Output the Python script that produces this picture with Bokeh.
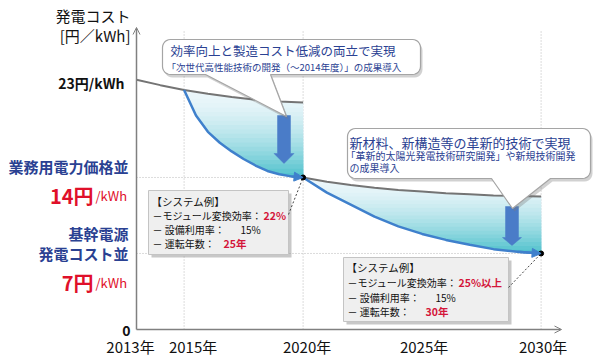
import numpy as np
from bokeh.plotting import figure
from bokeh.models import Range1d, Arrow, NormalHead, OpenHead
from bokeh.core.properties import value
from bokeh.embed import file_html
from bokeh.resources import INLINE

# ---------------- data ----------------
gray_years_1 = [2013, 2014, 2015, 2016, 2017, 2018, 2019, 2020]
gray_cost_1 = [23.0, 22.5, 22.05, 21.7, 21.4, 21.15, 21.0, 20.9]
blue_years_1 = [2015, 2015.5, 2016, 2016.5, 2017, 2017.5, 2018, 2018.5, 2019, 2019.5, 2020]
blue_cost_1 = [22.05, 19.7, 18.2, 17.2, 16.4, 15.7, 15.1, 14.6, 14.3, 14.1, 14.0]
gray_years_2 = [2020, 2021, 2022, 2023, 2024, 2025, 2026, 2027, 2028, 2029, 2030]
gray_cost_2 = [14.0, 13.6, 13.3, 13.05, 12.85, 12.7, 12.55, 12.45, 12.35, 12.3, 12.25]
blue_years_2 = [2020, 2021, 2022, 2023, 2024, 2025, 2026, 2027, 2028, 2029, 2030]
blue_cost_2 = [14.0, 12.6, 11.5, 10.4, 9.5, 8.8, 8.25, 7.8, 7.4, 7.15, 7.0]
target_years = [2020, 2030]
target_cost = [14, 7]
grid_years = [2015, 2020, 2030]
xtick_years = [2013, 2015, 2020, 2025, 2030]
xtick_labels = ["2013年", "2015年", "2020年", "2025年", "2030年"]
ytick_values = [0, 23]
ytick_labels = ["0", "23円/kWh"]

# ---------------- layout helpers (page pixel -> data) ----------------
PXY = 23.8      # px per year
PXV = 10.86     # px per 円/kWh
def PX(px):
    return 2013 + (px - 136) / PXY
def PY(py):
    return (329 - py) / PXV

FONT = value("Noto Sans CJK JP")
BLUE_TXT = "#2a4192"
RED = "#e0102a"
RED2 = "#d4163a"
CURVE = "#3f80cc"
GRAYL = "#747474"

p = figure(width=600, height=359, output_backend="svg", toolbar_location=None,
           x_range=Range1d(PX(0), PX(600)), y_range=Range1d(PY(359), PY(0)),
           x_axis_location=None, y_axis_location=None, min_border=0)
p.grid.visible = False
p.outline_line_color = None
p.background_fill_color = "white"
p.border_fill_color = "white"

# dotted reference lines
p.segment(x0=grid_years, y0=[0] * len(grid_years), x1=grid_years,
          y1=[PY(29)] * len(grid_years), line_color="#b8b8b8", line_dash="1 2", line_width=1)
p.segment(x0=[2013, 2013], y0=target_cost, x1=target_years, y1=target_cost,
          line_color="#b8b8b8", line_dash="1 2", line_width=1)

# gradient fills between gray line and blue curve
C_TOP = np.array([236, 247, 251])
C_BOT = np.array([84, 195, 206])
def mix(t):
    c = (C_TOP + (C_BOT - C_TOP) * t).astype(int)
    return "#%02x%02x%02x" % tuple(c)

def gradient(xl, yl, xu, yu, n=20):
    grid = np.union1d(np.linspace(xl[0], xl[-1], 300), np.union1d(xl, [x for x in xu if xl[0] <= x <= xl[-1]]))
    lo = np.interp(grid, xl, yl)
    up = np.interp(grid, xu, yu)
    top, bot = up.max(), lo.min()
    for i in range(n):
        level = top - (top - bot) * i / n
        t = (i / (n - 1)) ** 1.6
        y2 = np.maximum(np.minimum(up, level), lo)
        p.varea(x=grid, y1=lo, y2=y2, fill_color=mix(t))

gradient(blue_years_1, blue_cost_1, gray_years_1, gray_cost_1)
gradient(blue_years_2, blue_cost_2, gray_years_2, gray_cost_2)

# curves
p.line(gray_years_1, gray_cost_1, line_color=GRAYL, line_width=2)
p.line(gray_years_2, gray_cost_2, line_color=GRAYL, line_width=2)
p.line(blue_years_1, blue_cost_1, line_color=CURVE, line_width=2.5)
p.line(blue_years_2, blue_cost_2, line_color=CURVE, line_width=2.5)
for xs, ys in ((blue_years_1, blue_cost_1), (blue_years_2, blue_cost_2)):
    p.add_layout(Arrow(end=NormalHead(size=9, fill_color=CURVE, line_color=CURVE),
                       x_start=xs[-2], y_start=ys[-2], x_end=xs[-1], y_end=ys[-1],
                       line_color=CURVE, line_width=2.5))

# axes with arrows
p.add_layout(Arrow(end=OpenHead(size=7, line_color="#808080", line_width=1),
                   x_start=2013, y_start=0, x_end=2013, y_end=PY(27),
                   line_color="#808080", line_width=1.5))
p.add_layout(Arrow(end=OpenHead(size=7, line_color="#808080", line_width=1),
                   x_start=2013, y_start=0, x_end=PX(561), y_end=0,
                   line_color="#808080", line_width=1.5))

# block arrows (down)
def block_arrow(cx, top, head, tip, bw, hw, color="#4a7cc8"):
    pts = [(cx - bw, top), (cx + bw, top), (cx + bw, head), (cx + hw, head),
           (cx, tip), (cx - hw, head), (cx - bw, head)]
    p.patch([PX(a) for a, b in pts], [PY(b) for a, b in pts], fill_color=color,
            line_color=color, line_width=0.5)

block_arrow(283.5, 115, 153, 163, 6.5, 10)
block_arrow(511.5, 206, 237, 245, 6.5, 9.5)

# callouts
def callout(x0, y0, x1, y1, r, bl, br, tx, ty, n=7):
    pts = []
    def arc(cx, cy, a0, a1):
        for a in np.linspace(np.radians(a0), np.radians(a1), n):
            pts.append((cx + r * np.cos(a), cy + r * np.sin(a)))
    arc(x0 + r, y0 + r, 180, 270)
    arc(x1 - r, y0 + r, 270, 360)
    arc(x1 - r, y1 - r, 0, 90)
    pts.extend([(br, y1), (tx, ty), (bl, y1)])
    arc(x0 + r, y1 - r, 90, 180)
    p.patch([PX(a + 2) for a, b in pts], [PY(b + 3) for a, b in pts],
            fill_color="#7a7a7a", fill_alpha=0.35, line_color=None)
    p.patch([PX(a) for a, b in pts], [PY(b) for a, b in pts],
            fill_color="white", line_color="#a5a5a5", line_width=1.2)

callout(162, 39, 420, 74, 8, 205, 270, 286, 116)
callout(347, 128, 590, 178, 8, 491, 550, 512, 208)

# system boxes
def sysbox(x0, y0, x1, y1):
    p.quad(left=[PX(x0 + 3)], right=[PX(x1 + 3)], top=[PY(y0 + 3)], bottom=[PY(y1 + 3)],
           fill_color="#9a9a9a", fill_alpha=0.55, line_color=None)
    p.quad(left=[PX(x0)], right=[PX(x1)], top=[PY(y0)], bottom=[PY(y1)],
           fill_color="#efefef", line_color="#c4c4c4", line_width=1)

sysbox(148, 190, 288, 254)
sysbox(343, 257, 508, 321)

# connectors
p.segment(x0=[PX(288), PX(508)], y0=[PY(214), PY(287)], x1=target_years, y1=target_cost,
          line_color="#444444", line_dash="2 2", line_width=1)
p.scatter(target_years, target_cost, size=5, color="black")

# texts
def txt(px, py, s, size, color="#222222", align="left", bold=False, baseline="middle"):
    p.text(x=[PX(px)], y=[PY(py)], text=[s], text_font=FONT, text_font_size=value(f"{size}px"),
           text_color=color, text_align=align, text_baseline=baseline,
           text_font_style="bold" if bold else "normal")

# tick labels
p.text(x=xtick_years, y=[PY(346)] * len(xtick_years), text=xtick_labels,
       x_offset=[-6, 9, 4, 2, 2], text_font=FONT, text_font_size=value("15px"),
       text_color="#111111", text_align="center", text_baseline="middle")
p.text(x=[2013] * 2, y=ytick_values, text=ytick_labels, x_offset=[-6, -12], y_offset=[1, 3],
       text_font=FONT, text_font_size=value("14px"), text_color="#111111",
       text_align="right", text_baseline="middle", text_font_style="bold")

txt(130, 15, "発電コスト", 15, "#111111", "right")
txt(130, 35, "[円／kWh]", 15, "#111111", "right")

txt(128, 166, "業務用電力価格並", 15, BLUE_TXT, "right", True)
txt(93, 195, "14円", 20, RED, "right", True, "alphabetic")
txt(95, 195, "/kWh", 13, RED, "left", False, "alphabetic")
txt(128, 233, "基幹電源", 15, BLUE_TXT, "right", True)
txt(128, 253, "発電コスト並", 15, BLUE_TXT, "right", True)
txt(93, 282, "7円", 20, RED, "right", True, "alphabetic")
txt(95, 282, "/kWh", 13, RED, "left", False, "alphabetic")

# callout texts
txt(170, 50, "効率向上と製造コスト低減の両立で実現", 12.5, BLUE_TXT)
txt(166, 66, "「次世代高性能技術の開発（～2014年度）」の成果導入", 9.5, BLUE_TXT)
txt(349, 142, "新材料、新構造等の革新的技術で実現", 13, BLUE_TXT)
txt(345, 155, "「革新的太陽光発電技術研究開発」や新規技術開発", 10, BLUE_TXT)
txt(349, 167, "の成果導入", 10, BLUE_TXT)

# system box texts
def sys_texts(x, ys, eff, life, xe, xu, xl):
    txt(x - 1, ys[0], "【システム例】", 10.5, "#111111")
    txt(x, ys[1], "－モジュール変換効率：", 10, "#111111")
    txt(xe, ys[1], eff, 10.5, RED2, bold=True)
    txt(x, ys[2], "－ 設備利用率：", 10, "#111111")
    txt(xu, ys[2], "15%", 10, "#111111")
    txt(x, ys[3], "－ 運転年数：", 10, "#111111")
    txt(xl, ys[3], life, 10.5, RED2, bold=True)

sys_texts(152, [201, 215, 229, 243], "22%", "25年", 263, 240, 223)
sys_texts(347, [267, 282, 297, 311], "25%以上", "30年", 458, 435, 425)

open("out.html", "w").write(file_html(p, INLINE))
